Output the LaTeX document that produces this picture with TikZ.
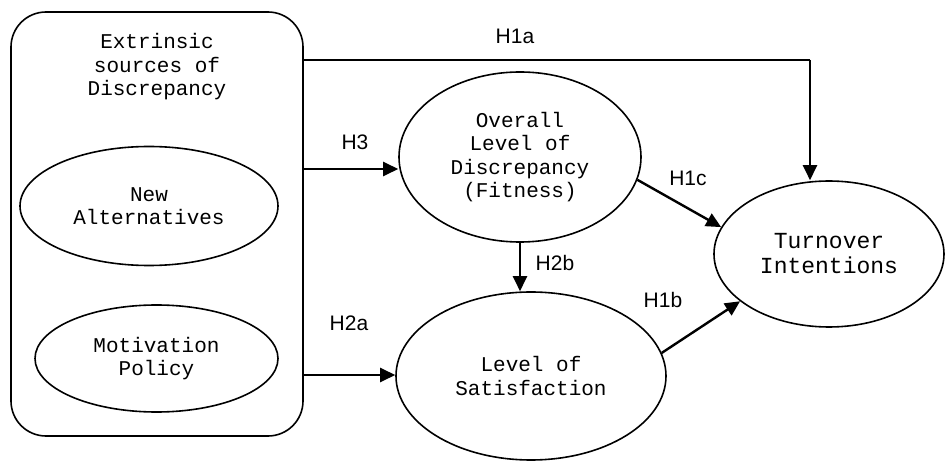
\documentclass[tikz,border=0pt]{standalone}
\usepackage{fontspec}
\setmainfont{Liberation Sans}
\newfontfamily\cour{Liberation Mono}
\usetikzlibrary{shapes.geometric,arrows.meta}
\tikzset{
  ell/.style={draw,line width=1.6pt,ellipse,inner sep=0pt,align=center,font=\cour\fontsize{21}{23.5}\selectfont},
  lbl/.style={font=\fontsize{21}{24}\selectfont,inner sep=0pt},
  conn/.style={line width=2.4pt},
  arr/.style={line width=2.4pt,-{Triangle[length=15pt,width=14pt]}}
}
\begin{document}
\begin{tikzpicture}[x=1pt,y=-1pt]
\useasboundingbox (0,0) rectangle (946,462);
% outer box
\node[draw,line width=1.6pt,rounded corners=35pt,minimum width=292pt,minimum height=424pt,inner sep=0pt] (box) at (157,224) {};
\node[align=center,inner sep=0pt,font=\cour\fontsize{21}{23.5}\selectfont] (ext) at (157,67) {Extrinsic\\sources of\\Discrepancy};
\node[ell,minimum width=258pt,minimum height=119pt] (alt) at (149,206) {New\\Alternatives};
\node[ell,minimum width=243pt,minimum height=107pt] (mot) at (156.5,358.5) {Motivation\\Policy};
% right side ellipses
\node[ell,minimum width=242pt,minimum height=170pt] (ovr) at (520,157) {Overall\\Level of\\Discrepancy\\(Fitness)};
\node[ell,minimum width=270pt,minimum height=168pt] (sat) at (531,376) {Level of\\Satisfaction};
\node[ell,minimum width=230pt,minimum height=146pt,font=\cour\fontsize{23}{25}\selectfont] (turn) at (829,254) {Turnover\\Intentions};
% connectors
\coordinate (h1a) at (810,60);
\draw[conn] (box.east |- h1a) -- (h1a);
\draw[arr] (h1a) -- (turn.north -| h1a);
\coordinate (h3) at (303,169);
\draw[arr] (box.east |- h3) -- (ovr.west |- h3);
\coordinate (h2a) at (303,375);
\draw[arr] (box.east |- h2a) -- (sat.west |- h2a);
\draw[arr] (ovr.south) -- (sat.north -| ovr.south);
\draw[arr] (ovr.-11) -- (turn.166);
\draw[arr] (sat.10) -- (turn.208);
% labels
\node[lbl] (l1a) at (515,36) {H1a};
\node[lbl] (l3) at (355,142) {H3};
\node[lbl] (l2b) at (555,263) {H2b};
\node[lbl] (l2a) at (349,323) {H2a};
\node[lbl] (l1c) at (688,178) {H1c};
\node[lbl] (l1b) at (663,300) {H1b};
\end{tikzpicture}
\end{document}
